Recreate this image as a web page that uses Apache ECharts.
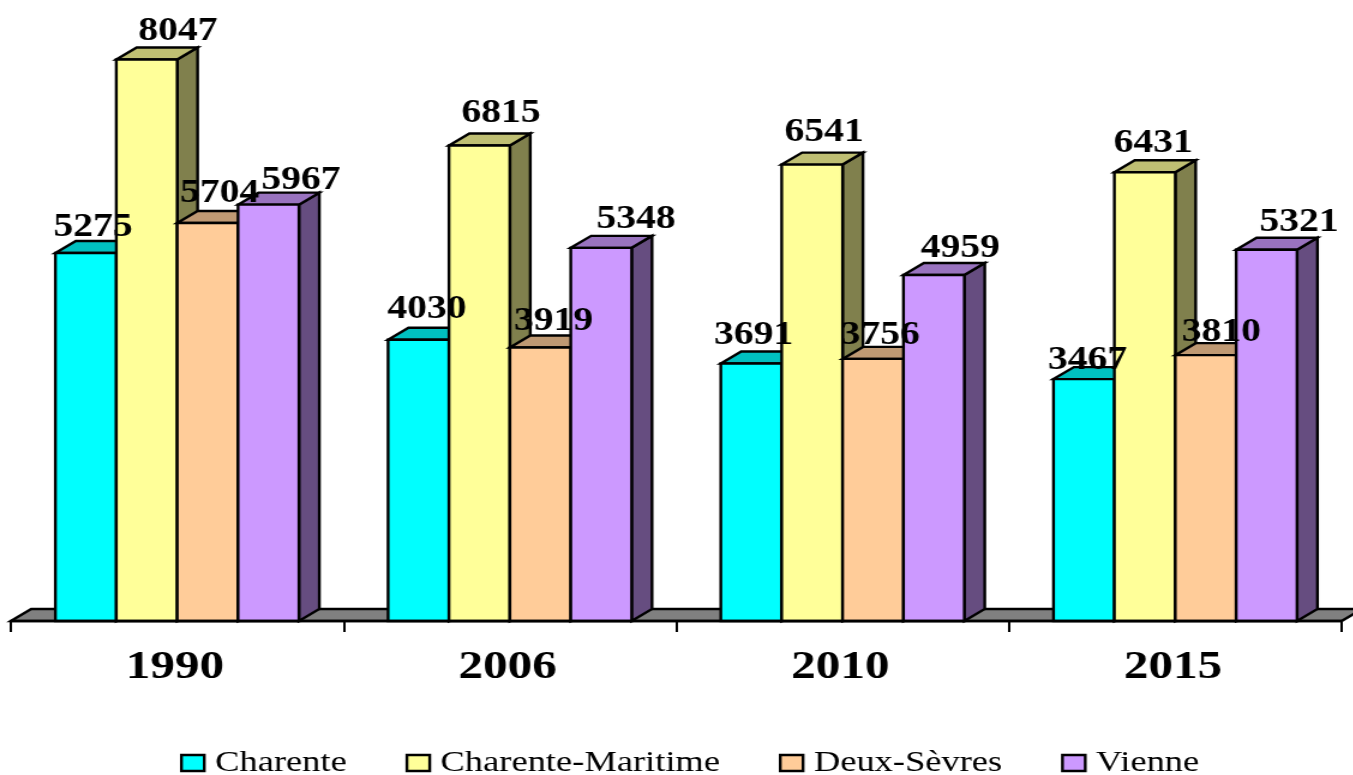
<!DOCTYPE html>
<html>
<head>
<meta charset="utf-8">
<title>Population</title>
<script src="https://cdn.jsdelivr.net/npm/echarts@6/dist/echarts.min.js"></script>
<style>
html, body { margin: 0; padding: 0; background: #fff; overflow: hidden; width: 1353px; height: 775px; }
/* the source picture is stretched horizontally, so the whole chart is too */
#main { width: 1128px; height: 775px; transform: scaleX(1.2); transform-origin: 0 0; }
</style>
</head>
<body>
<div id="main"></div>
<script>
var categories = ['1990', '2006', '2010', '2015']
var charente = [5275, 4030, 3691, 3467]
var charenteMaritime = [8047, 6815, 6541, 6431]
var deuxSevres = [5704, 3919, 3756, 3810]
var vienne = [5967, 5348, 4959, 5321]

// label nudges by hand (px, chart space), the source labels were moved around
var labelDx = {
  Charente: [6, 7, 2, 3],
  Maritime: [26, 18, 10, 7],
  Deux: [10, 11, 6, 13],
  Vienne: [27, 29, 22, 27]
}
var labelDy = {
  Charente: [-16, -21, -18, -9],
  Maritime: [-19, -23, -23, -19],
  Deux: [-20, -17, -14, -13],
  Vienne: [-15, -19, -17, -18]
}

var BAR_RATIO = 0.183
var DEPTH_X = 17
var DEPTH_Y = 12
var LABEL_ASCENT = 26

function barRenderer (index, colors, dx, dy) {
  return function (params, api) {
    var cat = api.value(0)
    var value = api.value(1)
    var w = api.size([1, 0])[0] * BAR_RATIO
    var center = api.coord([cat, 0])
    var top = api.coord([cat, value])[1]
    var x0 = center[0] + (index - 2) * w
    var x1 = x0 + w
    var y0 = center[1]
    var line = { stroke: '#000', lineWidth: 2.4, lineJoin: 'miter' }
    return {
      type: 'group',
      children: [
        {
          type: 'polygon',
          shape: { points: [[x1, y0], [x1 + DEPTH_X, y0 - DEPTH_Y], [x1 + DEPTH_X, top - DEPTH_Y], [x1, top]] },
          style: Object.assign({ fill: colors.side }, line)
        },
        {
          type: 'polygon',
          shape: { points: [[x0, top], [x0 + DEPTH_X, top - DEPTH_Y], [x1 + DEPTH_X, top - DEPTH_Y], [x1, top]] },
          style: Object.assign({ fill: colors.top }, line)
        },
        {
          type: 'rect',
          shape: { x: x0, y: top, width: w, height: y0 - top },
          style: Object.assign({ fill: colors.front }, line)
        },
        {
          type: 'text',
          z2: 100,
          style: {
            text: String(value),
            x: x0 + w / 2 + dx[cat],
            y: top + dy[cat] - LABEL_ASCENT,
            align: 'center',
            verticalAlign: 'top',
            font: 'bold 33px "Liberation Serif"',
            fill: '#000'
          }
        }
      ]
    }
  }
}

function floorRenderer (params) {
  var r = params.coordSys
  var y = r.y + r.height
  return {
    type: 'polygon',
    shape: { points: [[r.x, y], [r.x + DEPTH_X, y - DEPTH_Y], [r.x + r.width + DEPTH_X, y - DEPTH_Y], [r.x + r.width, y]] },
    style: { fill: '#808080', stroke: '#000', lineWidth: 2.4 }
  }
}

function makeSeries (name, values, index, colors, dx, dy) {
  return {
    name: name,
    type: 'custom',
    coordinateSystem: 'cartesian2d',
    renderItem: barRenderer(index, colors, dx, dy),
    itemStyle: { color: colors.front, borderColor: '#000', borderWidth: 2 },
    encode: { x: 0, y: 1 },
    data: values.map(function (v, i) { return [i, v] })
  }
}

var myChart = echarts.init(document.getElementById('main'))
myChart.setOption({
  backgroundColor: '#fff',
  animation: false,
  grid: { left: 9, right: 10, top: 0, height: 621 },
  legend: {
    left: 145,
    top: 743,
    itemWidth: 19,
    itemHeight: 16,
    itemGap: 49,
    icon: 'rect',
    data: ['Charente', 'Charente-Maritime', 'Deux-Sèvres', 'Vienne'],
    itemStyle: { borderColor: '#000', borderWidth: 2.4 },
    textStyle: { color: '#000', fontFamily: 'Liberation Serif', fontSize: 30.4, padding: [0, 0, 0, 4] }
  },
  xAxis: {
    type: 'category',
    data: categories,
    z: 5,
    axisLine: { lineStyle: { color: '#000', width: 2.4 } },
    axisTick: { show: true, length: 11, lineStyle: { color: '#000', width: 2 } },
    axisLabel: { color: '#000', fontFamily: 'Liberation Serif', fontWeight: 'bold', fontSize: 41, margin: 26, padding: [0, 4, 0, 0] }
  },
  yAxis: { type: 'value', min: 0, max: 8900, show: false },
  series: [
    {
      name: 'floor',
      type: 'custom',
      coordinateSystem: 'cartesian2d',
      renderItem: floorRenderer,
      silent: true,
      encode: { x: 0, y: 1 },
      data: [[0, 0]]
    },
    makeSeries('Charente', charente, 0, { front: '#00FFFF', top: '#00C0C0', side: '#008080' }, labelDx.Charente, labelDy.Charente),
    makeSeries('Charente-Maritime', charenteMaritime, 1, { front: '#FFFF99', top: '#BFBF73', side: '#80804D' }, labelDx.Maritime, labelDy.Maritime),
    makeSeries('Deux-Sèvres', deuxSevres, 2, { front: '#FFCC99', top: '#BF9973', side: '#80664D' }, labelDx.Deux, labelDy.Deux),
    makeSeries('Vienne', vienne, 3, { front: '#CC99FF', top: '#9973BF', side: '#664D80' }, labelDx.Vienne, labelDy.Vienne)
  ]
})
window.onresize = myChart.resize
</script>
</body>
</html>
